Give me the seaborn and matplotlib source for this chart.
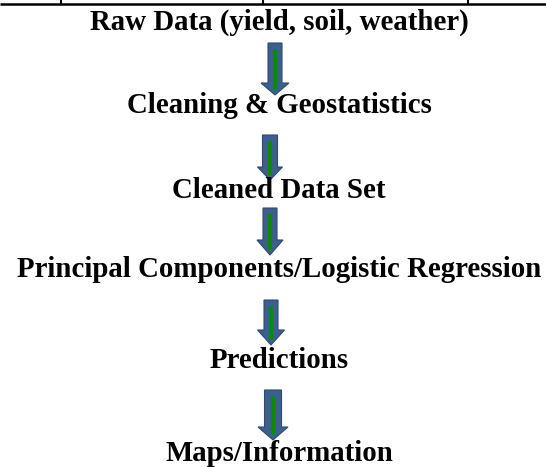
import seaborn as sns
import matplotlib.pyplot as plt

# Flowchart steps (top to bottom)
steps = [
    "Raw Data (yield, soil, weather)",
    "Cleaning & Geostatistics",
    "Cleaned Data Set",
    "Principal Components/Logistic Regression",
    "Predictions",
    "Maps/Information",
]

# layout (pixel units, y grows downward) - text baselines
label_y = [30, 113, 198, 277, 368, 461]
# arrows: (x centre, top, bottom, shaft width, head width, head length)
arrows = [
    (275, 43, 95, 14, 28, 12),
    (270, 135, 180, 15, 25, 13),
    (270, 208, 255, 14, 26, 15),
    (271, 300, 345, 14, 27, 15),
    (273, 390, 440, 17, 30, 13),
]
table_ticks = [61, 263, 468]

sns.set_theme(style="white")
plt.rcParams['font.family'] = ['Liberation Serif', 'DejaVu Serif']

fig = plt.figure(figsize=(5.46, 4.67), dpi=100)
ax = fig.add_axes([0, 0, 1, 1])
ax.set_xlim(0, 546)
ax.set_ylim(467, 0)
ax.axis('off')

# remnant of the table border at the top
ax.plot([0, 546], [4, 4], color='black', lw=1.8, solid_capstyle='butt')
for tx in table_ticks:
    ax.plot([tx, tx], [0, 4], color='black', lw=1.5, solid_capstyle='butt')

for text, y in zip(steps, label_y):
    ax.text(279, y, text, ha='center', va='baseline', fontsize=20.8,
            fontweight='bold', color='black')

for x, top, bottom, sw, hw, hl in arrows:
    ax.arrow(x, top, 0, bottom - top, width=sw, head_width=hw, head_length=hl,
             length_includes_head=True, fc='#3d5f8e', ec='#2f4a70', lw=0.8)
    ax.plot([x, x], [top + 6, bottom - 5], color='#0a8a0a', lw=3,
            solid_capstyle='butt')

fig.savefig('out.png', dpi=100)
